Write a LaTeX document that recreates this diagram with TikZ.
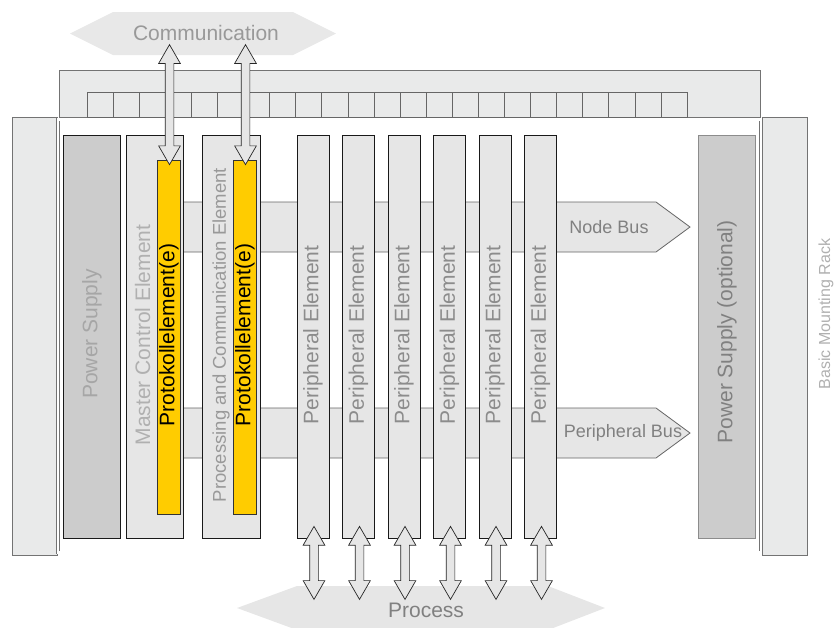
\documentclass[tikz,border=0pt]{standalone}
\usepackage{fontspec}
\setmainfont{Liberation Sans}
\usetikzlibrary{shapes.arrows, positioning, calc}

\definecolor{rackgray}{HTML}{E9EAEA}
\definecolor{elemgray}{HTML}{E6E6E6}
\definecolor{psgray}{HTML}{CCCCCC}
\definecolor{protoyellow}{HTML}{FFCC00}
\definecolor{hexgray}{HTML}{E8E8E8}
\definecolor{lighttext}{HTML}{B0B0B0}
\definecolor{midtext}{HTML}{999999}
\definecolor{darktext}{HTML}{808080}

\begin{document}
\begin{tikzpicture}[
    x=1pt, y=-1pt,
    rack/.style={draw=black!55, fill=rackgray, line width=0.8pt},
    slot/.style={draw=black!60, fill=rackgray, line width=0.7pt},
    elem/.style={draw=black!90, fill=elemgray, line width=0.8pt, minimum width=#1, minimum height=403pt, inner sep=0pt},
    elem/.default=57pt,
    psbox/.style={elem=#1, fill=psgray},
    psbox/.default=57pt,
    proto/.style={draw=black!80, fill=protoyellow, line width=0.7pt, minimum width=23pt, minimum height=354pt, inner sep=0pt},
    vlabel/.style={rotate=90, inner sep=0pt, font=\fontsize{21}{25}\selectfont},
    buslabel/.style={inner sep=0pt, text=darktext, font=\fontsize{18}{21}\selectfont},
    bus/.style={draw=black!60, fill=elemgray, line width=0.8pt},
    dblarrow/.style={double arrow, shape border rotate=90, draw=black!85, fill=elemgray, line width=0.7pt, inner sep=4pt, minimum width=0pt, double arrow head extend=6.5pt, double arrow tip angle=60}
]
\useasboundingbox (0,0) rectangle (838,627);

% hexagons for communication and process
\fill[hexgray] (70,33.5) -- (113,12) -- (293,12) -- (336,33.5) -- (293,55) -- (113,55) -- cycle;
\node[inner sep=0pt, text=midtext, font=\fontsize{21}{25}\selectfont] (comm) at (206,33) {Communication};
\fill[elemgray] (237,608) -- (297,586) -- (548,586) -- (605,608) -- (548,630) -- (297,630) -- cycle;
\node[inner sep=0pt, text=darktext, font=\fontsize{21}{25}\selectfont] (process) at (426,610) {Process};

% mounting rack
\draw[rack] (59,70) rectangle (760,117);
\foreach \i in {0,...,22}
    \draw[slot] ({87+26.09*\i},92) rectangle ++(26.09,25);
\draw[rack] (12,117) rectangle (57,555);
\draw[rack] (762,117) rectangle (807,555);
\draw[draw=black!55, fill=white, double=white, double distance=2.5pt, line width=0.7pt] (58,119.5) rectangle (761,552.5);
\node[vlabel, text=lighttext, font=\fontsize{16}{19}\selectfont] (racklabel) at (826,314) {Basic Mounting Rack};

% buses
\draw[bus] (170,202) -- (656,202) -- (690,227) -- (656,252) -- (170,252) -- cycle;
\draw[bus] (170,408) -- (656,408) -- (690,433) -- (656,458) -- (170,458) -- cycle;
\node[buslabel] (nodebus) at (609,227) {Node Bus};
\node[buslabel] (periphbus) at (623,433) {Peripheral Bus};

% elements
\node[psbox] (ps) at (91.5,336.5) {};
\node[vlabel, text=black!35] (pslabel) at (92,334) {Power Supply};
\node[elem] (mce) at (154.5,336.5) {};
\node[vlabel, text=lighttext] (mcelabel) at (142.5,335) {Master Control Element};
\node[elem=58pt] (pce) at (231,336.5) {};
\node[vlabel, text=midtext, font=\fontsize{18.5}{22}\selectfont] (pcelabel) at (221,335) {Processing and Communication Element};
\node[proto] (proto1) at (168.5,337) {};
\node[vlabel] (proto1label) at (169,335) {Protokollelement(e)};
\node[proto] (proto2) at (244.5,337) {};
\node[vlabel] (proto2label) at (245,335) {Protokollelement(e)};

\foreach \i in {1,...,6} {
    \node[elem=32pt] (pe\i) at ({313+45.5*(\i-1)},336.5) {};
    \node[vlabel, text=black!45] (pelabel\i) at ([yshift=1.5pt]pe\i) {Peripheral Element};
}

\node[psbox, draw=black!45] (psopt) at (727,336.5) {};
\node[vlabel, text=black!50] (psoptlabel) at (727,332) {Power Supply (optional)};

% links to communication and process
\foreach \i in {1,2}
    \node[dblarrow, minimum height=120pt] (comlink\i) at ([xshift=1pt, yshift=55pt]proto\i.north) {};
\foreach \i in {1,...,6}
    \node[dblarrow, minimum height=73pt] (proclink\i) at ([xshift=1pt, yshift=-24.5pt]pe\i.south) {};
\end{tikzpicture}
\end{document}
